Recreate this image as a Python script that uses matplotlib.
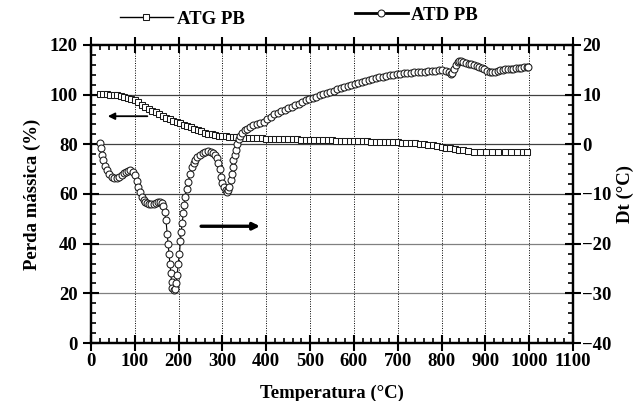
import matplotlib
matplotlib.use("Agg")
import matplotlib.pyplot as plt
from matplotlib.ticker import MultipleLocator

plt.rcParams['font.family'] = ['Liberation Serif', 'DejaVu Serif']
plt.rcParams['font.weight'] = 'bold'

# ATG PB : mass (%) vs temperature (°C)
atg_T = [20, 28, 36, 44, 52, 60, 68, 76, 84, 92, 100, 108, 116, 124, 132, 140,
         148, 156, 164, 172, 180, 188, 196, 204, 212, 220, 228, 236, 244, 252,
         260, 268, 276, 284, 292, 300, 308, 316, 324, 332, 340, 350, 360, 370,
         380, 390, 400, 410, 420, 430, 440, 450, 460, 470, 480, 490, 500, 510,
         520, 530, 540, 550, 560, 570, 580, 590, 600, 610, 620, 630, 640, 650,
         660, 670, 680, 690, 700, 710, 720, 730, 740, 750, 760, 770, 780, 790,
         800, 810, 820, 830, 840, 850, 860, 874, 888, 902, 916, 930, 944, 958,
         972, 986, 995]
atg_m = [100.3, 100.2, 100.1, 99.9, 99.8, 99.7, 99.4, 99.0, 98.6, 98.1, 97.7,
         97.0, 96.0, 95.2, 94.3, 93.5, 92.8, 92.1, 91.4, 90.7, 90.1, 89.5,
         89.0, 88.4, 87.9, 87.4, 86.8, 86.2, 85.7, 85.2, 84.7, 84.3, 84.0,
         83.7, 83.5, 83.3, 83.2, 83.1, 83.0, 82.9, 82.8, 82.7, 82.6, 82.5,
         82.4, 82.4, 82.3, 82.3, 82.2, 82.2, 82.1, 82.1, 82.0, 82.0, 81.9,
         81.9, 81.8, 81.8, 81.7, 81.7, 81.6, 81.6, 81.5, 81.5, 81.4, 81.4,
         81.3, 81.3, 81.2, 81.2, 81.1, 81.1, 81.0, 81.0, 80.9, 80.9, 80.8,
         80.7, 80.6, 80.5, 80.4, 80.2, 80.0, 79.8, 79.6, 79.3, 79.0, 78.7,
         78.4, 78.1, 77.8, 77.5, 77.3, 77.0, 76.9, 76.9, 76.9, 76.9, 76.9,
         76.9, 76.9, 76.9, 76.9]

# ATD PB : Dt (°C) vs temperature (°C)
atd_T = [20, 22, 25, 28, 32, 36, 41, 47, 53, 59, 65, 70, 75, 80, 85, 90, 95,
         100, 104, 108, 112, 116, 120, 124, 128, 133, 138, 143, 148, 153, 157,
         161, 165, 168, 171, 174, 176, 178, 180, 182, 184, 186, 189, 192, 194,
         197, 199, 202, 204, 206, 208, 211, 213, 215, 218, 222, 226, 230, 234,
         238, 243, 249, 255, 261, 267, 273, 279, 284, 288, 291, 294, 297, 300,
         303, 307, 310, 313, 316, 319, 321, 323, 325, 328, 331, 334, 337, 341,
         345, 351, 357, 363, 370, 378, 386, 394, 402, 410, 418, 426, 434, 442,
         450, 458, 466, 474, 482, 490, 498, 506, 514, 522, 530, 538, 546, 554,
         562, 570, 578, 586, 594, 602, 610, 618, 626, 634, 642, 650, 658, 666,
         674, 682, 690, 698, 706, 714, 722, 730, 738, 746, 754, 762, 770, 778,
         786, 794, 802, 810, 816, 821, 825, 829, 833, 837, 841, 845, 850, 856,
         862, 868, 874, 880, 886, 892, 898, 904, 910, 916, 922, 928, 934, 940,
         946, 952, 958, 964, 970, 976, 982, 988, 994, 998]
atd_dt = [0.3, -0.8, -2.2, -3.2, -4.3, -5.2, -6.0, -6.55, -6.85, -6.85, -6.5,
          -6.1, -5.8, -5.5, -5.3, -5.2, -5.5, -6.2, -7.3, -8.5, -9.6, -10.55,
          -11.2, -11.6, -11.8, -12.0, -12.05, -12.0, -11.8, -11.6, -11.55,
          -11.9, -12.45, -13.6, -15.2, -18.0, -20.0, -22.0, -24.0, -26.0,
          -27.8, -29.0, -29.3, -29.2, -28.0, -26.3, -24.0, -22.0, -19.5,
          -17.6, -15.8, -13.9, -12.2, -10.6, -9.0, -7.6, -5.9, -4.5, -3.7,
          -3.1, -2.6, -2.15, -1.8, -1.6, -1.45, -1.5, -1.7, -2.1, -2.8, -3.7,
          -5.0, -6.6, -7.8, -8.6, -9.3, -9.55, -9.3, -8.6, -7.2, -5.9, -4.6,
          -3.2, -2.1, -1.15, 0.0, 1.0, 1.7, 2.2, 2.8, 3.1, 3.4, 3.8, 4.1, 4.2,
          4.5, 5.0, 5.5, 6.0, 6.3, 6.6, 6.9, 7.3, 7.6, 7.9, 8.2, 8.5, 8.85,
          9.1, 9.35, 9.6, 9.85, 10.1, 10.35, 10.6, 10.8, 11.05, 11.3, 11.55,
          11.8, 12.0, 12.15, 12.35, 12.55, 12.75, 12.95, 13.15, 13.3, 13.45,
          13.6, 13.7, 13.85, 13.95, 14.05, 14.15, 14.25, 14.3, 14.4, 14.45,
          14.5, 14.55, 14.6, 14.65, 14.75, 14.8, 14.85, 14.9, 14.8, 14.5,
          14.1, 14.3, 15.2, 16.0, 16.5, 16.7, 16.7, 16.5, 16.3, 16.2, 16.1,
          15.9, 15.8, 15.6, 15.4, 15.1, 14.8, 14.6, 14.5, 14.6, 14.8, 14.9,
          15.0, 15.1, 15.15, 15.2, 15.25, 15.3, 15.35, 15.4, 15.5, 15.55, 15.6]

x_ticks = [0, 100, 200, 300, 400, 500, 600, 700, 800, 900, 1000, 1100]
left_ticks = [0, 20, 40, 60, 80, 100, 120]
right_ticks = [-40, -30, -20, -10, 0, 10, 20]

fig = plt.figure(figsize=(6.43, 4.01), dpi=100)
ax = fig.add_axes([0.1415, 0.1446, 0.7496, 0.7434])
ax2 = ax.twinx()

FS = 13.5

# grid
for xv in x_ticks[1:-1]:
    ax.axvline(xv, color='black', lw=0.7, ls=(0, (1, 1.5)), zorder=0)
for yv in left_ticks[1:-1]:
    ax.axhline(yv, color='0.25' if yv >= 60 else '0.5', lw=0.9, zorder=0)

l1, = ax.plot(atg_T, atg_m, color='black', lw=0.8, marker='s', markersize=4.2,
              markerfacecolor='white', markeredgecolor='0.1', markeredgewidth=0.75,
              label='ATG PB', zorder=3)
l2, = ax2.plot(atd_T, atd_dt, color='black', lw=0.8, marker='o', markersize=5.0,
               markerfacecolor='white', markeredgecolor='0.1', markeredgewidth=0.75,
               label='ATD PB', zorder=3)

ax.set_xlim(0, 1100)
ax.set_ylim(0, 120)
ax2.set_ylim(-40, 20)
ax.set_xticks(x_ticks)
ax.set_yticks(left_ticks)
ax2.set_yticks(right_ticks)
ax.xaxis.set_minor_locator(MultipleLocator(20))
ax.yaxis.set_minor_locator(MultipleLocator(4))
ax2.yaxis.set_minor_locator(MultipleLocator(2))

for a in (ax, ax2):
    for s in a.spines.values():
        s.set_linewidth(1.6)

ax.tick_params(which='major', direction='inout', length=11, width=1.5,
               labelsize=FS, pad=2, top=True, right=False)
ax.tick_params(axis='y', which='major', pad=4)
ax.tick_params(which='minor', direction='in', length=3.5, width=1.2,
               top=True, right=False)
ax2.tick_params(which='major', direction='inout', length=11, width=1.5,
                labelsize=FS, pad=1)
ax2.tick_params(which='minor', direction='in', length=3.5, width=1.2)

for lab in ax.get_xticklabels() + ax.get_yticklabels() + ax2.get_yticklabels():
    lab.set_fontweight('bold')

ax.set_xlabel('Temperatura (°C)', fontsize=FS, fontweight='bold', labelpad=10)
ax.set_ylabel('Perda mássica (%)', fontsize=FS, fontweight='bold', labelpad=6)
ax2.set_ylabel('Dt (°C)', fontsize=FS, fontweight='bold', labelpad=4)

# arrows
ax.annotate('', xy=(32, 91.3), xytext=(135, 91.3),
            arrowprops=dict(arrowstyle='-|>', color='black', lw=1.3,
                            mutation_scale=10))
ax.annotate('', xy=(392, 47.0), xytext=(245, 47.0),
            arrowprops=dict(arrowstyle='-|>', color='black', lw=2.4,
                            mutation_scale=10))

leg1 = fig.legend(handles=[l1], loc='center left', bbox_to_anchor=(120 / 643, 1 - 19 / 401),
                  frameon=False, fontsize=FS, handlelength=2.8,
                  handletextpad=0.25, borderaxespad=0, borderpad=0)
leg2 = fig.legend(handles=[l2], loc='center left', bbox_to_anchor=(355 / 643, 1 - 15 / 401),
                  frameon=False, fontsize=FS, handlelength=2.8,
                  handletextpad=0.2, borderaxespad=0, borderpad=0)
for lg, lw in ((leg1, 1.0), (leg2, 2.0)):
    for t in lg.get_texts():
        t.set_fontweight('bold')
    for ln in lg.get_lines():
        ln.set_linewidth(lw)

fig.savefig('out.png', dpi=100)
